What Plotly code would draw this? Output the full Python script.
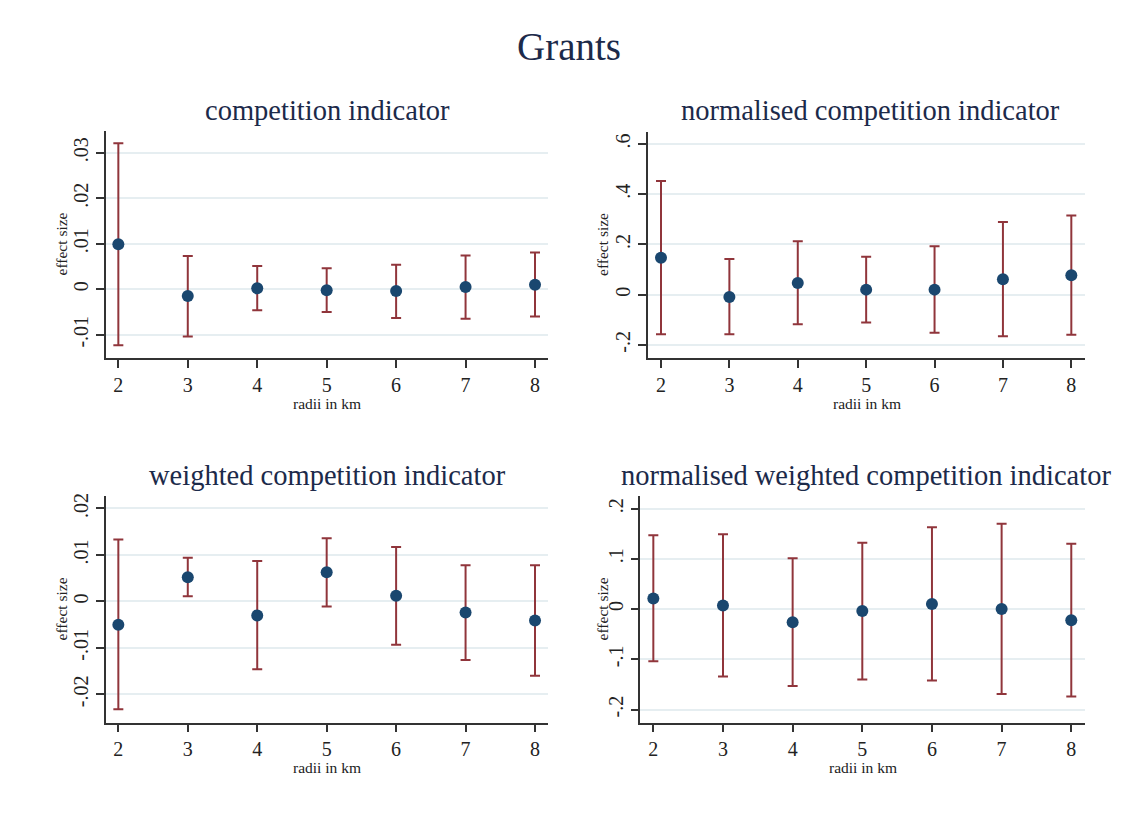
import plotly.graph_objects as go

# ---------------- data ----------------
radii = [2, 3, 4, 5, 6, 7, 8]
x_ticktext = ["2", "3", "4", "5", "6", "7", "8"]

ci_est = [0.0099, -0.0015, 0.0002, -0.0002, -0.0004, 0.0005, 0.0010]
ci_lo = [-0.0123, -0.0104, -0.0046, -0.0050, -0.0063, -0.0065, -0.0060]
ci_hi = [0.0321, 0.0073, 0.0051, 0.0046, 0.0054, 0.0074, 0.0081]

nci_est = [0.147, -0.009, 0.046, 0.020, 0.020, 0.061, 0.077]
nci_lo = [-0.158, -0.158, -0.118, -0.111, -0.152, -0.166, -0.160]
nci_hi = [0.453, 0.142, 0.213, 0.151, 0.193, 0.289, 0.315]

wci_est = [-0.0050, 0.0052, -0.0030, 0.0063, 0.0012, -0.0024, -0.0041]
wci_lo = [-0.0232, 0.0011, -0.0146, -0.0011, -0.0093, -0.0126, -0.0160]
wci_hi = [0.0133, 0.0094, 0.0087, 0.0136, 0.0117, 0.0078, 0.0078]

nwci_est = [0.021, 0.007, -0.026, -0.004, 0.010, 0.000, -0.022]
nwci_lo = [-0.104, -0.134, -0.153, -0.140, -0.142, -0.169, -0.174]
nwci_hi = [0.147, 0.149, 0.101, 0.132, 0.163, 0.170, 0.130]

ci_ticks = [-0.01, 0, 0.01, 0.02, 0.03]
ci_ticktext = ["-.01", "0", ".01", ".02", ".03"]
nci_ticks = [-0.2, 0, 0.2, 0.4, 0.6]
nci_ticktext = ["-.2", "0", ".2", ".4", ".6"]
wci_ticks = [-0.02, -0.01, 0, 0.01, 0.02]
wci_ticktext = ["-.02", "-.01", "0", ".01", ".02"]
nwci_ticks = [-0.2, -0.1, 0, 0.1, 0.2]
nwci_ticktext = ["-.2", "-.1", "0", ".1", ".2"]

titles = ["competition indicator", "normalised competition indicator",
          "weighted competition indicator", "normalised weighted competition indicator"]
main_title = "Grants"
y_label = "effect size"
x_label = "radii in km"

# ---------------- layout geometry (pixels) ----------------
W, H = 1125, 817
MARKER = "#1a476f"
ERR = "#90353b"
GRID = "#e6eef1"
AXIS = "#333333"
TEXT = "#222222"
TITLE_C = "#1c2a4a"
FONT = "Liberation Serif"

panels = [
    dict(est=ci_est, lo=ci_lo, hi=ci_hi, ticks=ci_ticks, tt=ci_ticktext,
         px=(105.7, 548), py=(128, 356.7), yr=(-0.0152, 0.0349), xr=(1.818, 8.187),
         title_xy=(327, 108), ylab_x=61),
    dict(est=nci_est, lo=nci_lo, hi=nci_hi, ticks=nci_ticks, tt=nci_ticktext,
         px=(648, 1085), py=(129, 356.7), yr=(-0.254, 0.650), xr=(1.81, 8.2),
         title_xy=(870, 108), ylab_x=603),
    dict(est=wci_est, lo=wci_lo, hi=wci_hi, ticks=wci_ticks, tt=wci_ticktext,
         px=(105.7, 548), py=(495, 722.3), yr=(-0.02607, 0.02264), xr=(1.818, 8.187),
         title_xy=(327, 474), ylab_x=61),
    dict(est=nwci_est, lo=nwci_lo, hi=nwci_hi, ticks=nwci_ticks, tt=nwci_ticktext,
         px=(640.3, 1085), py=(495, 722.3), yr=(-0.2261, 0.2248), xr=(1.813, 8.197),
         title_xy=(866, 474), ylab_x=602),
]

fig = go.Figure()
annotations = []
layout_axes = {}

for i, p in enumerate(panels):
    n = i + 1
    xa = "x" if n == 1 else f"x{n}"
    ya = "y" if n == 1 else f"y{n}"
    plus = [h - e for h, e in zip(p["hi"], p["est"])]
    minus = [e - l for e, l in zip(p["est"], p["lo"])]
    fig.add_trace(go.Scatter(
        x=radii, y=p["est"], mode="markers", xaxis=xa, yaxis=ya,
        marker=dict(color=MARKER, size=12, line=dict(width=0)),
        error_y=dict(type="data", symmetric=False, array=plus, arrayminus=minus,
                     color=ERR, thickness=2, width=5),
        showlegend=False, cliponaxis=False,
    ))
    xd = [p["px"][0] / W, p["px"][1] / W]
    yd = [1 - p["py"][1] / H, 1 - p["py"][0] / H]
    xkey = "xaxis" if n == 1 else f"xaxis{n}"
    ykey = "yaxis" if n == 1 else f"yaxis{n}"
    layout_axes[xkey] = dict(
        domain=xd, range=list(p["xr"]), anchor=ya,
        tickmode="array", tickvals=radii, ticktext=x_ticktext,
        showline=True, linecolor=AXIS, linewidth=1.5, mirror=False,
        ticks="outside", ticklen=8, tickcolor=AXIS, tickwidth=1.5,
        showgrid=False, zeroline=False,
        tickfont=dict(family=FONT, size=20, color=TEXT),
        ticklabelstandoff=0,
    )
    layout_axes[ykey] = dict(
        domain=yd, range=list(p["yr"]), anchor=xa,
        tickmode="array", tickvals=p["ticks"], ticktext=p["tt"],
        showline=True, linecolor=AXIS, linewidth=1.5, mirror=False,
        ticks="outside", ticklen=8, tickcolor=AXIS, tickwidth=1.5,
        showgrid=True, gridcolor=GRID, gridwidth=1.5, zeroline=False,
        tickangle=-90,
        tickfont=dict(family=FONT, size=20, color=TEXT),
        ticklabelstandoff=0,
    )
    tx, ty = p["title_xy"]
    annotations.append(dict(
        text=titles[i], x=tx / W, y=1 - ty / H, xref="paper", yref="paper",
        showarrow=False, xanchor="center", yanchor="middle",
        font=dict(family=FONT, size=28.5, color=TITLE_C)))
    annotations.append(dict(
        text=y_label, x=p["ylab_x"] / W, y=1 - (p["py"][0] + p["py"][1]) / 2 / H,
        xref="paper", yref="paper", showarrow=False, textangle=-90,
        xanchor="center", yanchor="middle",
        font=dict(family=FONT, size=15.5, color=TEXT)))
    xl_y = 402 if n <= 2 else 767
    annotations.append(dict(
        text=x_label, x=(p["px"][0] + p["px"][1]) / 2 / W, y=1 - xl_y / H,
        xref="paper", yref="paper", showarrow=False,
        xanchor="center", yanchor="middle",
        font=dict(family=FONT, size=15.5, color=TEXT)))

annotations.append(dict(
    text=main_title, x=569 / W, y=1 - 44 / H, xref="paper", yref="paper",
    showarrow=False, xanchor="center", yanchor="middle",
    font=dict(family=FONT, size=39, color=TITLE_C)))

fig.update_layout(
    width=W, height=H, margin=dict(l=0, r=0, t=0, b=0),
    paper_bgcolor="white", plot_bgcolor="white",
    annotations=annotations, **layout_axes,
)

fig.write_html("out.html", config={"displayModeBar": False})
